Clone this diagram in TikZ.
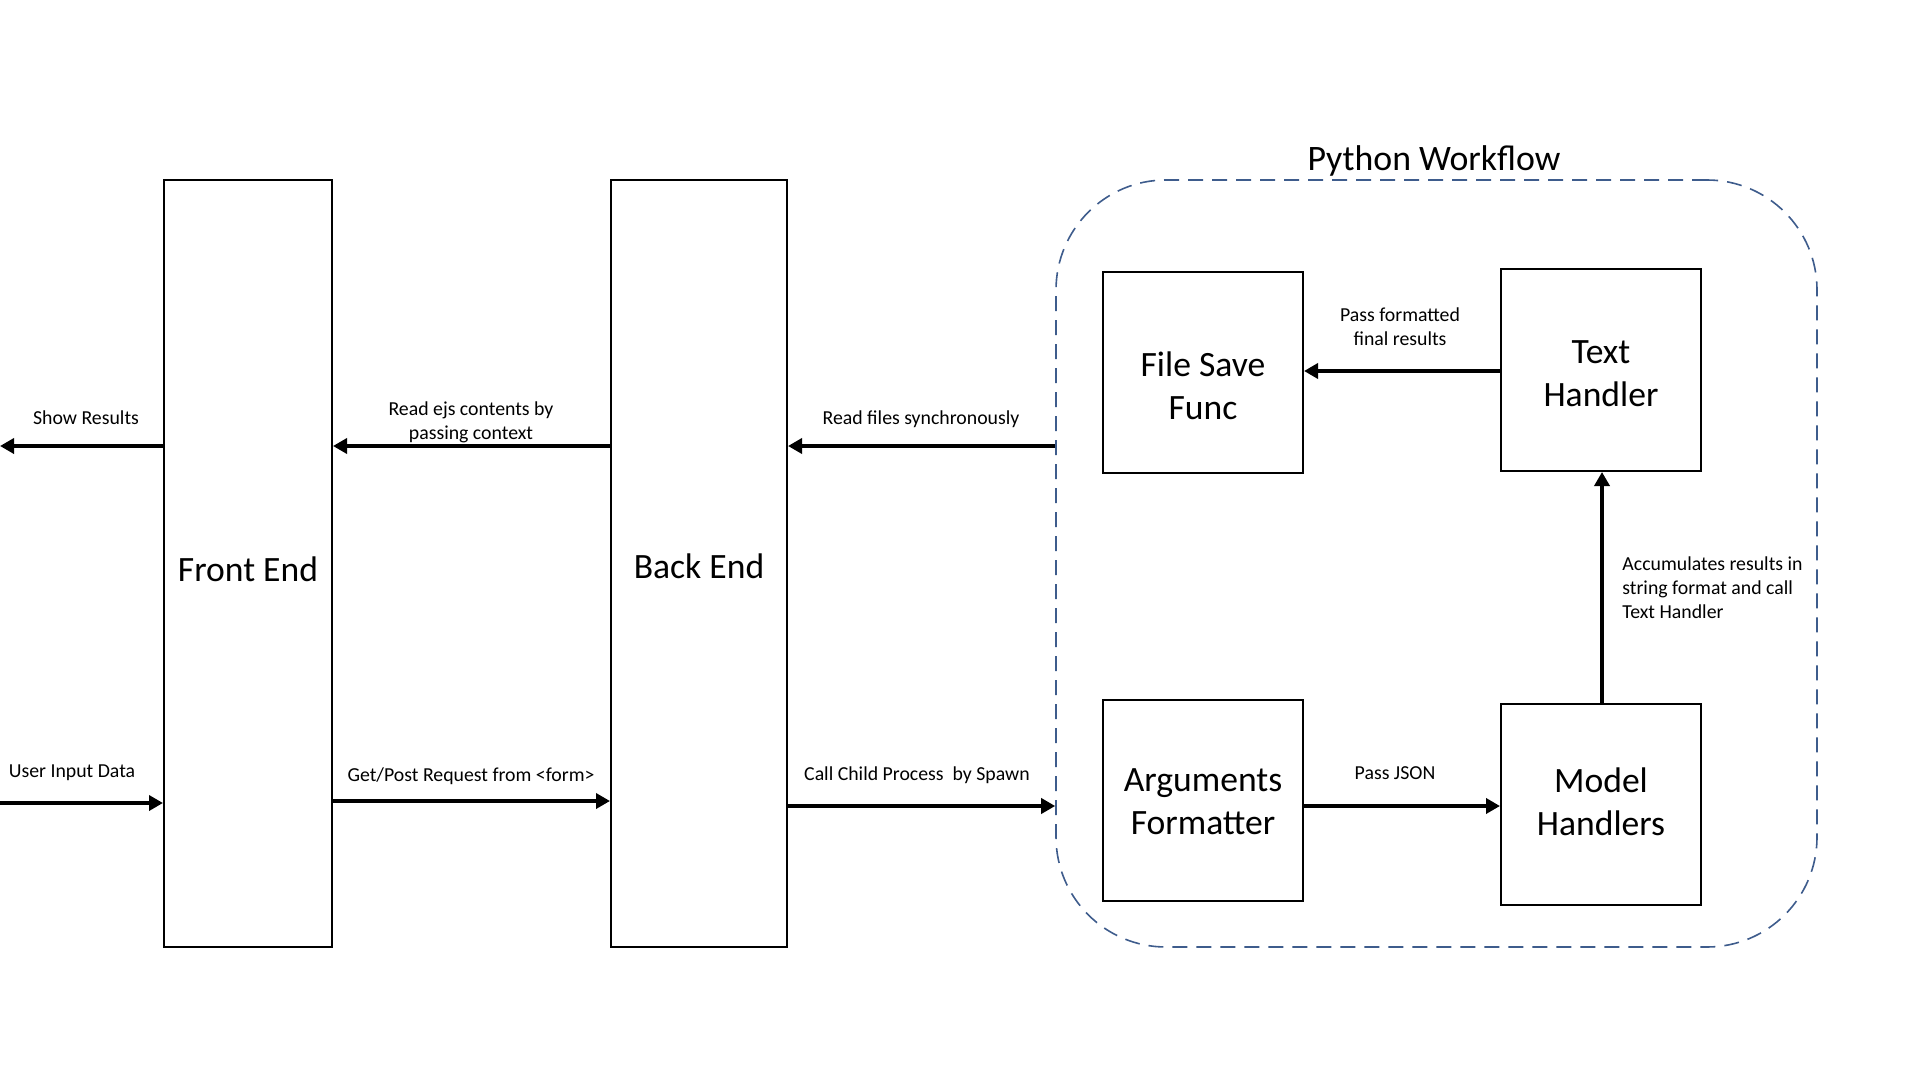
\documentclass[tikz,border=0pt]{standalone}
\usepackage{fontspec}
\setmainfont{Carlito}
\usetikzlibrary{arrows.meta,calc}
\definecolor{pyblue}{HTML}{3E5C8C}
\tikzset{
  blk/.style={draw=black,line width=1pt,inner sep=0pt},
  btxt/.style={align=center,inner sep=0pt,font=\fontsize{17.8}{21.5}\selectfont},
  lbl/.style={align=center,inner sep=0pt,font=\fontsize{9.9}{12}\selectfont},
  arr/.style={line width=2.4pt,-{Triangle[length=7pt,width=7.5pt]}},
}
\begin{document}
\begin{tikzpicture}[x=0.5pt,y=-0.5pt]
\useasboundingbox (0,0) rectangle (1920,1080);
% containers
\node[blk,minimum width=84pt,minimum height=383.5pt] (fe) at (248,563.5) {};
\node[btxt] (fet) at ($(fe.center)+(0,6)$) {Front End};
\node[blk,minimum width=88pt,minimum height=383.5pt] (be) at (699,563.5) {};
\node[btxt] (bet) at ($(be.center)+(0,2.5)$) {Back End};
\node[draw=pyblue,line width=0.8pt,dash pattern=on 7.5pt off 4.5pt,rounded corners=55pt,
  minimum width=380.5pt,minimum height=383.5pt,inner sep=0pt] (py) at (1436.5,563.5) {};
\node[font=\fontsize{17.9}{22}\selectfont,inner sep=0pt] (pt) at (1434,161) {Python Workflow};
% inner boxes
\node[blk,minimum width=100pt,minimum height=100.5pt] (fs) at (1203,372.5) {};
\node[btxt] (fst) at ($(fs.center)+(0,13.5)$) {File Save\\Func};
\node[blk,minimum width=100pt,minimum height=101pt] (th) at (1601,370) {};
\node[btxt] (tht) at ($(th.center)+(0,3.7)$) {Text\\Handler};
\node[blk,minimum width=100pt,minimum height=100.5pt] (af) at (1203,800.5) {};
\node[btxt] (aft) at ($(af.center)+(0,1.2)$) {Arguments\\Formatter};
\node[blk,minimum width=100pt,minimum height=100.5pt] (mh) at (1601,804.5) {};
\node[btxt] (mht) at ($(mh.center)+(0,-2.5)$) {Model\\Handlers};
% free ends and levels
\coordinate (sr) at (0,446);
\coordinate (ui) at (0,803);
\coordinate (ya) at (0,446);
\coordinate (yb) at (0,801);
\coordinate (yc) at (0,806);
\coordinate (yd) at (0,371);
\coordinate (xe) at (1602,0);
% arrows
\draw[arr] (fe.west |- sr) -- (sr);
\draw[arr] (ui) -- (fe.west |- ui);
\draw[arr] (be.west |- ya) -- (fe.east |- ya);
\draw[arr] (fe.east |- yb) -- (be.west |- yb);
\draw[arr] (py.west |- ya) -- (be.east |- ya);
\draw[arr] (be.east |- yc) -- (py.west |- yc);
\draw[arr] (af.east |- yc) -- (mh.west |- yc);
\draw[arr] (th.west |- yd) -- (fs.east |- yd);
\draw[arr] (mh.north -| xe) -- (th.south -| xe);
% labels
\node[lbl] (l1) at (86,418) {Show Results};
\node[lbl] (l2) at (471,422) {Read ejs contents by\\passing context};
\node[lbl] (l3) at (921,419) {Read files synchronously};
\node[lbl] (l4) at (72,773) {User Input Data};
\node[lbl] (l5) at (471,776) {Get/Post Request from <form>};
\node[lbl] (l6) at (917,775) {Call Child Process\ \ by Spawn};
\node[lbl] (l7) at (1395,773) {Pass JSON};
\node[lbl] (l8) at (1400,327) {Pass formatted\\final results};
\node[lbl,align=left,anchor=west] (l9) at (1622,588) {Accumulates results in\\string format and call\\Text Handler};
\end{tikzpicture}
\end{document}
